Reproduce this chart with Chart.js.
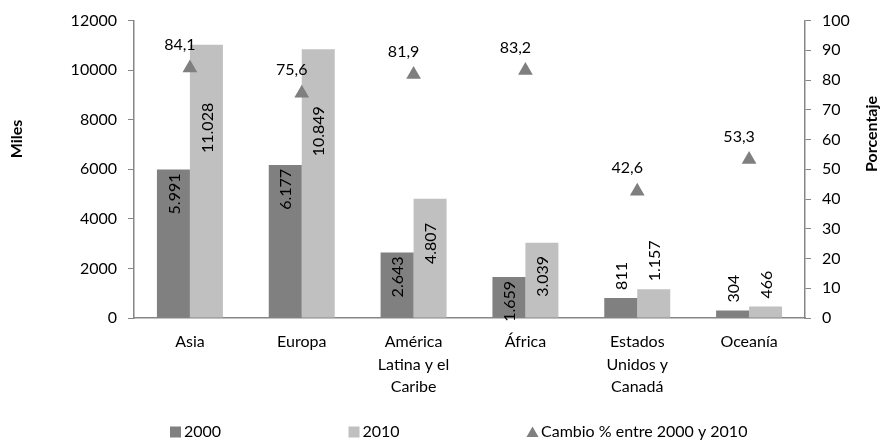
<!DOCTYPE html>
<html><head><meta charset="utf-8">
<script src="https://cdn.jsdelivr.net/npm/chart.js@4"></script>
<style>html,body{margin:0;padding:0;background:#fff}#wrap{width:881px;height:440px;position:relative}</style>
</head><body><div id="wrap"><canvas id="c" width="881" height="440"></canvas></div>
<script>
const categories = [["Asia"], ["Europa"], ["América", "Latina y el", "Caribe"], ["África"], ["Estados", "Unidos y", "Canadá"], ["Oceanía"]];
const seriesNames = ["2000", "2010", "Cambio % entre 2000 y 2010"];
const values2000 = [5991, 6177, 2643, 1659, 811, 304];
const values2010 = [11028, 10849, 4807, 3039, 1157, 466];
const cambio = [84.1, 75.6, 81.9, 83.2, 42.6, 53.3];
const leftAxis = {min: 0, max: 12000, step: 2000, title: "Miles"};
const rightAxis = {min: 0, max: 100, step: 10, title: "Porcentaje"};

const FONT = 'Lato, "Open Sans", sans-serif';
const FS = 16;
const C2000 = '#808080', C2010 = '#c0c0c0', CTRI = '#7f7f7f', AXIS = '#868686';

function fmtThousands(v) { return String(v).replace(/\B(?=(\d{3})+(?!\d))/g, '.'); }
function fmtDec(v) { return v.toFixed(1).replace('.', ','); }

const labelPlugin = {
  id: 'labels',
  afterDatasetsDraw(chart) {
    const ctx = chart.ctx;
    const y = chart.scales.y;
    ctx.save();
    ctx.fillStyle = '#000';
    ctx.font = FS + 'px ' + FONT;
    [0, 1].forEach(di => {
      const meta = chart.getDatasetMeta(di);
      const vals = chart.data.datasets[di].data;
      meta.data.forEach((bar, i) => {
        const v = vals[i];
        const txt = fmtThousands(v);
        const w = ctx.measureText(txt).width;
        let yc;
        if (v < 1500) {
          yc = bar.y - 8 - w / 2;
        } else if (di === 0) {
          yc = bar.y + 4 + w / 2;
        } else {
          yc = y.getPixelForValue(0.75 * v - 600);
        }
        ctx.save();
        ctx.translate(bar.x, yc);
        ctx.rotate(-Math.PI / 2);
        ctx.textAlign = 'center';
        ctx.textBaseline = 'middle';
        ctx.fillText(txt, 0, 1);
        ctx.restore();
      });
    });
    const meta = chart.getDatasetMeta(2);
    meta.data.forEach((pt, i) => {
      ctx.textAlign = 'center';
      ctx.textBaseline = 'middle';
      ctx.fillText(fmtDec(cambio[i]), pt.x - 10, pt.y - 23);
    });
    ctx.restore();
  },
  afterDraw(chart) {
    const ctx = chart.ctx;
    ctx.save();
    ctx.fillStyle = '#000';
    ctx.font = 'bold ' + FS + 'px ' + FONT;
    ctx.textAlign = 'center';
    ctx.textBaseline = 'middle';
    ctx.save();
    ctx.translate(17, 139);
    ctx.rotate(-Math.PI / 2);
    ctx.fillText(leftAxis.title, 0, 0);
    ctx.restore();
    ctx.save();
    ctx.translate(872, 134);
    ctx.rotate(-Math.PI / 2);
    ctx.fillText(rightAxis.title, 0, 0);
    ctx.restore();
    // legend
    ctx.font = FS + 'px ' + FONT;
    ctx.textAlign = 'left';
    const colors = [C2000, C2010, CTRI];
    const ly = 432;
    seriesNames.forEach((name, i) => {
      const x0 = 170 + i * 178.5;
      ctx.fillStyle = colors[i];
      if (i < 2) {
        ctx.fillRect(x0, ly - 5.5, 11, 11);
      } else {
        ctx.beginPath();
        ctx.moveTo(x0 + 5.5, ly - 5.5);
        ctx.lineTo(x0 + 11.5, ly + 5);
        ctx.lineTo(x0 - 0.5, ly + 5);
        ctx.closePath();
        ctx.fill();
      }
      ctx.fillStyle = '#000';
      ctx.fillText(name, x0 + 14, ly);
    });
    ctx.restore();
  }
};

const ticksFont = {family: FONT, size: FS};
new Chart(document.getElementById('c'), {
  data: {
    labels: categories,
    datasets: [
      {type: 'bar', label: seriesNames[0], data: values2000, backgroundColor: C2000, yAxisID: 'y', order: 2, categoryPercentage: 0.59, barPercentage: 1},
      {type: 'bar', label: seriesNames[1], data: values2010, backgroundColor: C2010, yAxisID: 'y', order: 2, categoryPercentage: 0.59, barPercentage: 1},
      {type: 'line', label: seriesNames[2], data: cambio, yAxisID: 'y1', showLine: false, pointStyle: 'triangle', pointRadius: 8.5, pointHoverRadius: 8.5, backgroundColor: CTRI, borderColor: CTRI, borderWidth: 0, order: 0}
    ]
  },
  options: {
    responsive: false,
    animation: false,
    events: [],
    layout: {padding: {top: 20, bottom: 42, left: 0, right: 0}},
    plugins: {legend: {display: false}, tooltip: {enabled: false}},
    scales: {
      x: {
        grid: {display: false, drawTicks: false},
        border: {display: true, color: AXIS, width: 1.5},
        ticks: {font: {family: FONT, size: FS, lineHeight: 1.4}, color: '#000', padding: 13, maxRotation: 0, autoSkip: false},
        afterFit(s) { s.height = 80; }
      },
      y: {
        position: 'left',
        min: leftAxis.min, max: leftAxis.max,
        grid: {display: true, drawOnChartArea: false, drawTicks: true, tickLength: 6, color: AXIS},
        border: {display: true, color: AXIS, width: 1.5},
        ticks: {stepSize: leftAxis.step, font: ticksFont, color: '#000', padding: 11, callback: v => String(v)},
        afterFit(s) { s.width = 134; }
      },
      y1: {
        position: 'right',
        min: rightAxis.min, max: rightAxis.max,
        grid: {display: true, drawOnChartArea: false, drawTicks: true, tickLength: 6, color: AXIS},
        border: {display: true, color: AXIS, width: 1.5},
        ticks: {stepSize: rightAxis.step, font: ticksFont, color: '#000', padding: 11, callback: v => String(v)},
        afterFit(s) { s.width = 76; }
      }
    }
  },
  plugins: [labelPlugin]
});
</script>
</body></html>
